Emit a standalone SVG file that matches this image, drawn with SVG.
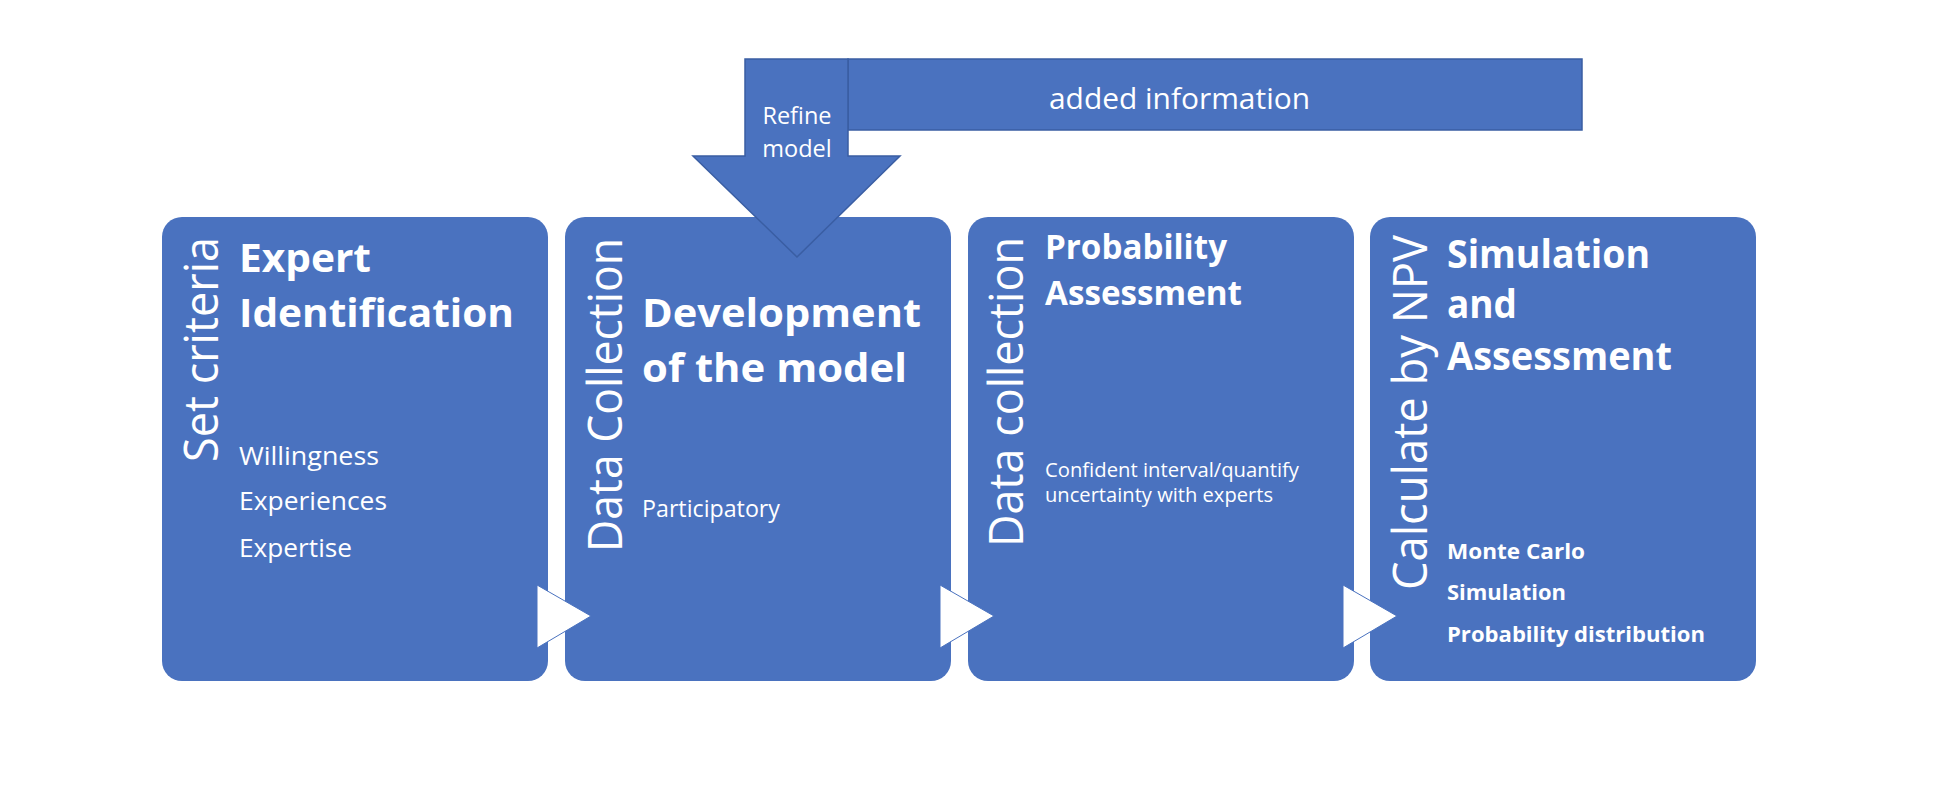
<svg xmlns="http://www.w3.org/2000/svg" width="1938" height="806" viewBox="0 0 1938 806">
  <style>
    .box { fill: #4A72BF; }
    .t { fill: #FFFFFF; font-family: "Open Sans", "Noto Sans", sans-serif; }
    .title { font-weight: 700; font-size: 40px; }
    .title3 { font-weight: 700; font-size: 34px; }
    .vert { font-size: 48px; text-anchor: end; }
    .sub1 { font-size: 26px; }
    .sub2 { font-size: 23.5px; }
    .sub3 { font-size: 20.5px; }
    .sub4 { font-size: 22px; font-weight: 700; }
    .tri { fill: #FFFFFF; stroke: #4A72BF; stroke-width: 1; }
    .band { fill: #4A72BF; stroke: #3A5EA3; stroke-width: 1.5; }
  </style>
  <rect width="1938" height="806" fill="#FFFFFF"/>

  <g id="node-expert-identification">
    <rect class="box" x="162" y="217" width="386" height="464" rx="20"/>
    <text class="t vert" transform="translate(218,237) rotate(-90)" textLength="225" lengthAdjust="spacingAndGlyphs">Set criteria</text>
    <text class="t title" x="239" y="272" textLength="132" lengthAdjust="spacingAndGlyphs">Expert</text>
    <text class="t title" x="239" y="327" textLength="275" lengthAdjust="spacingAndGlyphs">Identification</text>
    <text class="t sub1" x="239" y="465" textLength="140" lengthAdjust="spacingAndGlyphs">Willingness</text>
    <text class="t sub1" x="239" y="510" textLength="148" lengthAdjust="spacingAndGlyphs">Experiences</text>
    <text class="t sub1" x="239" y="557" textLength="113" lengthAdjust="spacingAndGlyphs">Expertise</text>
  </g>

  <g id="node-development-model">
    <rect class="box" x="565" y="217" width="386" height="464" rx="20"/>
    <text class="t vert" transform="translate(622,238) rotate(-90)" textLength="314" lengthAdjust="spacingAndGlyphs">Data Collection</text>
    <text class="t title" x="642" y="327" textLength="279" lengthAdjust="spacingAndGlyphs">Development</text>
    <text class="t title" x="642" y="382" textLength="265" lengthAdjust="spacingAndGlyphs">of the model</text>
    <text class="t sub2" x="642" y="517" textLength="138" lengthAdjust="spacingAndGlyphs">Participatory</text>
  </g>

  <g id="node-probability-assessment">
    <rect class="box" x="968" y="217" width="386" height="464" rx="20"/>
    <text class="t vert" transform="translate(1023,237) rotate(-90)" textLength="310" lengthAdjust="spacingAndGlyphs">Data collection</text>
    <text class="t title3" x="1045" y="259" textLength="182" lengthAdjust="spacingAndGlyphs">Probability</text>
    <text class="t title3" x="1045" y="305" textLength="197" lengthAdjust="spacingAndGlyphs">Assessment</text>
    <text class="t sub3" x="1045" y="477" textLength="254" lengthAdjust="spacingAndGlyphs">Confident interval/quantify</text>
    <text class="t sub3" x="1045" y="502" textLength="228" lengthAdjust="spacingAndGlyphs">uncertainty with experts</text>
  </g>

  <g id="node-simulation-assessment">
    <rect class="box" x="1370" y="217" width="386" height="464" rx="20"/>
    <text class="t vert" transform="translate(1427,235) rotate(-90)" textLength="355" lengthAdjust="spacingAndGlyphs">Calculate by NPV</text>
    <text class="t title" x="1447" y="268" textLength="203" lengthAdjust="spacingAndGlyphs">Simulation</text>
    <text class="t title" x="1447" y="318" textLength="70" lengthAdjust="spacingAndGlyphs">and</text>
    <text class="t title" x="1447" y="370" textLength="225" lengthAdjust="spacingAndGlyphs">Assessment</text>
    <text class="t sub4" x="1447" y="559" textLength="138" lengthAdjust="spacingAndGlyphs">Monte Carlo</text>
    <text class="t sub4" x="1447" y="600" textLength="119" lengthAdjust="spacingAndGlyphs">Simulation</text>
    <text class="t sub4" x="1447" y="642" textLength="258" lengthAdjust="spacingAndGlyphs">Probability distribution</text>
  </g>

  <g id="connectors">
    <polygon class="tri" points="537,585 591,616 537,648"/>
    <polygon class="tri" points="940,585 994,616 940,648"/>
    <polygon class="tri" points="1343,585 1397,616 1343,648"/>
  </g>

  <g id="node-feedback">
    <rect class="band" x="848" y="59" width="734" height="71"/>
    <polygon class="band" points="745,59 848,59 848,156 900,156 797,257 693,156 745,156"/>
    <text class="t" x="1049" y="109" font-size="29" textLength="261" lengthAdjust="spacingAndGlyphs">added information</text>
    <text class="t" x="797" y="124" font-size="23.5" text-anchor="middle">Refine</text>
    <text class="t" x="797" y="157" font-size="23.5" text-anchor="middle">model</text>
  </g>
</svg>
